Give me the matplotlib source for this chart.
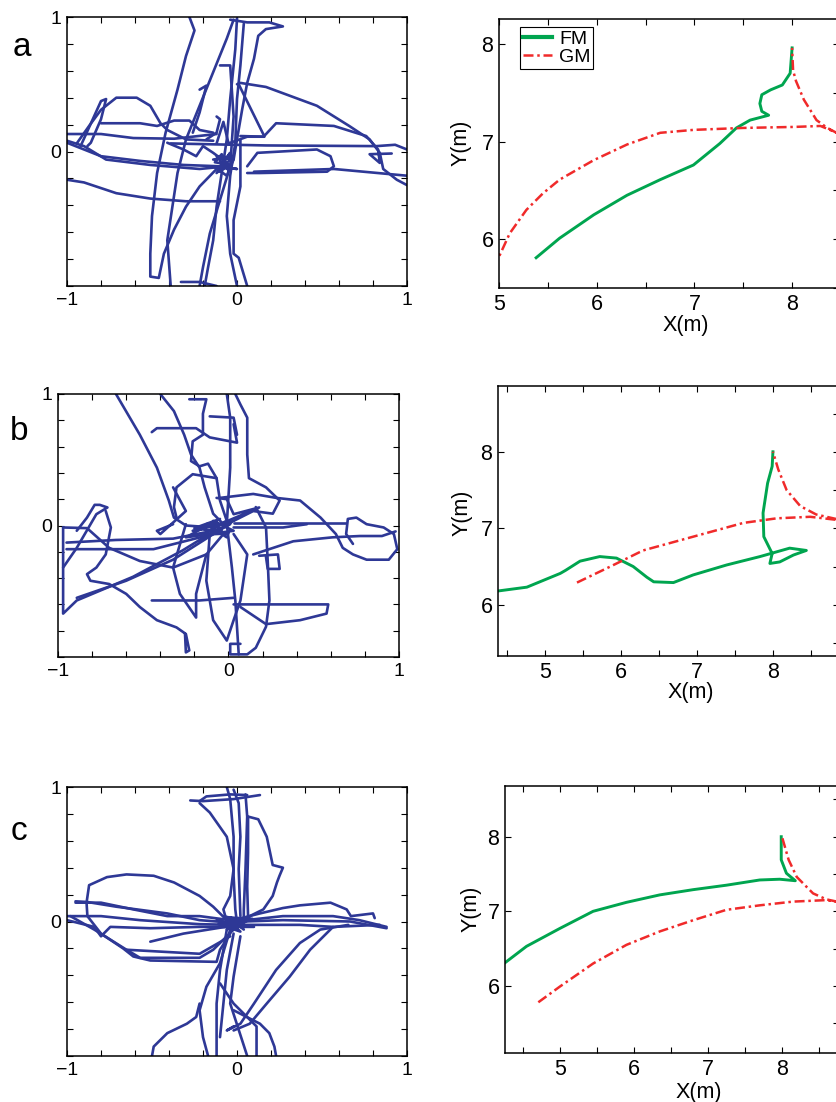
import numpy as np
import matplotlib.pyplot as plt
from matplotlib.ticker import MultipleLocator

plt.rcParams['font.family'] = ['Liberation Sans', 'DejaVu Sans']

# ---- left column: normalised head trajectories (x, y) ----
paths_a = [
    [(-0.28, 1.0), (-0.25, 0.90), (-0.30, 0.71), (-0.35, 0.46), (-0.42, 0.14), (-0.47, -0.16), (-0.50, -0.48),
     (-0.51, -0.76), (-0.51, -0.93), (-0.46, -0.94), (-0.43, -0.76), (-0.37, -0.58), (-0.30, -0.41),
     (-0.22, -0.26), (-0.12, -0.13)],
    [(-0.02, 0.98), (-0.06, 0.84), (-0.14, 0.59), (-0.22, 0.34), (-0.30, 0.09), (-0.35, -0.16), (-0.38, -0.41),
     (-0.41, -0.66), (-0.39, -1.0)],
    [(-0.04, 0.98), (0.06, 0.96), (0.19, 0.96), (0.27, 0.93), (0.17, 0.91), (0.125, 0.86), (0.10, 0.69),
     (0.06, 0.51), (0.03, 0.31), (0.0, 0.09), (-0.02, -0.06)],
    [(0.0, 0.99), (-0.01, 0.76), (-0.04, 0.39), (-0.06, 0.09), (-0.09, -0.16), (-0.12, -0.41), (-0.14, -0.66),
     (-0.17, -0.86), (-0.19, -1.0)],
    [(0.04, 0.95), (0.02, 0.64), (0.0, 0.39), (-0.01, 0.065), (-0.04, -0.18), (-0.06, -0.48), (-0.04, -0.76),
     (0.0, -1.0)],
    [(-0.10, 0.64), (-0.04, 0.64), (-0.02, 0.26), (-0.04, -0.11), (-0.10, -0.36), (-0.16, -0.61), (-0.20, -0.86),
     (-0.22, -1.0)],
    [(0.02, 0.09), (0.02, -0.26), (-0.02, -0.51), (-0.02, -0.76), (0.01, -0.79), (0.06, -1.0)],
    [(-0.33, -0.97), (-0.22, -0.97), (-0.12, -1.0)],
    [(0.0, 0.50), (0.02, 0.51), (0.17, 0.48), (0.47, 0.34), (0.66, 0.19), (0.78, 0.09), (0.84, -0.01),
     (0.86, -0.13), (0.94, -0.21), (1.0, -0.25)],
    [(-0.39, 0.06), (0.17, 0.045), (0.82, 0.04), (0.93, 0.05), (1.0, 0.015)],
    [(0.06, -0.11), (0.12, -0.01), (0.47, 0.015), (0.55, -0.035), (0.57, -0.11), (0.53, -0.15), (0.135, -0.16),
     (0.06, -0.16)],
    [(0.10, -0.15), (0.57, -0.13), (1.0, -0.18)],
    [(0.01, 0.50), (0.16, 0.115), (0.23, 0.21), (0.57, 0.19), (0.76, 0.115), (0.83, 0.015), (0.84, -0.085),
     (0.78, -0.02), (0.91, -0.015)],
    [(0.02, 0.115), (0.16, 0.11)],
    [(-0.94, 0.065), (-0.87, 0.19), (-0.80, 0.31), (-0.71, 0.40), (-0.59, 0.40), (-0.51, 0.34), (-0.45, 0.21),
     (-0.41, 0.16), (-0.30, 0.09), (-0.14, 0.08)],
    [(-0.92, 0.04), (-0.80, 0.375), (-0.77, 0.39), (-0.80, 0.24), (-0.86, 0.065), (-0.88, 0.04)],
    [(-0.80, 0.21), (-0.57, 0.21), (-0.47, 0.19), (-0.37, 0.23), (-0.28, 0.23), (-0.22, 0.16), (-0.14, 0.14)],
    [(-1.0, 0.13), (-0.80, 0.13), (-0.61, 0.10), (-0.37, 0.095), (-0.12, 0.13)],
    [(-1.0, 0.065), (-0.80, -0.035), (-0.57, -0.07), (-0.315, -0.10), (-0.10, -0.11)],
    [(-1.0, -0.21), (-0.90, -0.23), (-0.71, -0.31), (-0.51, -0.35), (-0.30, -0.37), (-0.10, -0.37)],
    [(-1.0, 0.08), (-0.90, 0.04), (-0.77, -0.06), (-0.51, -0.10), (-0.22, -0.13), (-0.06, -0.11)],
    [(-0.41, 0.065), (-0.315, 0.015), (-0.24, -0.035), (-0.20, 0.04), (-0.14, -0.01), (-0.06, -0.085)],
    [(-0.14, -0.06), (-0.02, -0.035), (-0.12, -0.16), (-0.04, -0.01), (-0.10, -0.11), (0.0, -0.13),
     (-0.14, -0.11), (-0.06, -0.18), (-0.02, -0.06), (-0.12, -0.035), (-0.05, -0.14), (-0.09, -0.02),
     (-0.13, -0.08), (-0.03, -0.10), (-0.11, -0.15), (-0.07, -0.04)],
    [(-0.22, 0.46), (-0.18, 0.49), (-0.22, 0.29), (-0.26, 0.14)],
    [(-0.12, 0.26), (-0.10, 0.24), (-0.12, 0.14), (-0.18, 0.09)],
    [(-0.12, 0.06), (-0.08, 0.22), (-0.05, 0.06), (0.06, 0.11), (0.16, 0.11)],
]

paths_b = [
    [(-0.66, 1.0), (-0.52, 0.69), (-0.42, 0.44), (-0.35, 0.19), (-0.32, 0.06), (-0.25, 0.0), (-0.09, -0.015)],
    [(-0.40, 1.0), (-0.32, 0.87), (-0.26, 0.69), (-0.22, 0.54), (-0.17, 0.44), (-0.14, 0.29), (-0.09, 0.09),
     (-0.03, 0.01)],
    [(-0.01, 1.0), (0.01, 0.82), (0.01, 0.44), (-0.01, 0.01), (0.02, -0.32), (0.04, -0.57), (0.06, -0.98)],
    [(0.04, 1.0), (0.07, 0.92), (0.11, 0.82), (0.11, 0.54), (0.12, 0.36), (0.22, 0.29), (0.30, 0.19),
     (0.26, 0.09), (0.145, 0.11), (0.03, 0.035)],
    [(-0.23, 0.96), (-0.13, 0.96), (-0.15, 0.85), (-0.15, 0.69), (-0.21, 0.64), (-0.22, 0.49), (-0.17, 0.45),
     (-0.12, 0.47), (-0.07, 0.36), (-0.05, 0.19), (-0.01, 0.035)],
    [(-0.45, 0.71), (-0.42, 0.74), (-0.19, 0.74), (-0.11, 0.67), (0.05, 0.63), (0.03, 0.77)],
    [(-0.11, 0.83), (0.03, 0.82), (0.05, 0.69)],
    [(-0.07, 0.36), (-0.21, 0.39), (-0.305, 0.29), (-0.32, 0.14), (-0.305, 0.06)],
    [(-0.05, 0.21), (0.145, 0.24), (0.28, 0.21), (0.42, 0.19), (0.54, 0.06), (0.63, -0.065), (0.67, -0.17),
     (0.73, -0.22), (0.81, -0.26), (0.94, -0.26), (0.99, -0.18), (0.97, -0.065), (0.91, -0.015), (0.81, 0.01),
     (0.75, 0.06), (0.70, 0.05), (0.69, -0.065), (0.73, -0.14)],
    [(0.03, 0.02), (0.42, 0.02), (0.69, 0.02)],
    [(0.145, -0.22), (0.38, -0.12), (0.61, -0.09), (0.77, -0.08), (0.90, -0.08), (0.98, -0.045)],
    [(0.22, -0.24), (0.23, -0.33), (0.30, -0.33), (0.29, -0.22), (0.18, -0.23)],
    [(0.16, 0.14), (0.22, -0.015), (0.23, -0.27), (0.24, -0.57), (0.22, -0.77), (0.16, -0.93), (0.11, -0.98),
     (0.01, -0.98), (0.01, -0.90), (0.07, -0.90)],
    [(-0.97, -0.015), (-0.97, -0.67), (-0.89, -0.57), (-0.56, -0.39), (-0.27, -0.19), (-0.05, -0.015)],
    [(-0.89, -0.55), (-0.60, -0.42), (-0.325, -0.26), (-0.07, -0.05)],
    [(-0.95, -0.13), (-0.66, -0.11), (-0.325, -0.10), (-0.05, -0.03)],
    [(-0.95, -0.18), (-0.44, -0.18), (-0.09, -0.065)],
    [(-0.97, -0.015), (-0.83, -0.02), (-0.70, -0.17), (-0.52, -0.27), (-0.325, -0.32), (-0.13, -0.22),
     (-0.03, -0.065)],
    [(-0.97, -0.32), (-0.89, -0.17), (-0.775, 0.086), (-0.71, 0.137), (-0.755, 0.157), (-0.785, 0.157),
     (-0.83, 0.06), (-0.89, -0.04)],
    [(-0.72, 0.11), (-0.69, -0.015), (-0.72, -0.22), (-0.775, -0.32), (-0.83, -0.37), (-0.81, -0.42),
     (-0.70, -0.445), (-0.60, -0.52), (-0.52, -0.62), (-0.42, -0.72), (-0.305, -0.775), (-0.25, -0.825),
     (-0.23, -0.95), (-0.25, -0.965), (-0.255, -0.825)],
    [(-0.45, -0.57), (-0.17, -0.57), (0.03, -0.55)],
    [(0.03, -0.60), (0.585, -0.60), (0.575, -0.67), (0.42, -0.72), (0.22, -0.75), (0.07, -0.62)],
    [(-0.25, 0.01), (-0.325, -0.32), (-0.285, -0.52), (-0.19, -0.70), (-0.19, -0.52), (-0.13, -0.22)],
    [(-0.11, -0.065), (-0.13, -0.42), (-0.09, -0.72), (-0.01, -0.875), (0.03, -0.72), (0.07, -0.57),
     (0.11, -0.22), (0.03, -0.065)],
    [(-0.325, 0.29), (-0.25, 0.11), (-0.40, -0.065), (-0.42, -0.04), (-0.325, 0.01)],
    [(-0.07, 0.21), (-0.01, 0.2), (0.03, 0.086), (0.18, 0.137), (-0.05, 0.01)],
    [(-0.21, -0.04), (0.03, 0.035), (-0.17, -0.12), (0.01, 0.01), (-0.13, 0.01), (-0.01, -0.09),
     (-0.09, 0.035), (0.03, -0.04), (-0.25, -0.09), (-0.05, 0.05), (-0.20, -0.02), (0.0, -0.06),
     (-0.15, -0.07), (-0.02, 0.03)],
    [(0.03, -0.015), (0.32, -0.015), (0.46, 0.01)],
]

paths_c = [
    [(-0.275, 0.90), (-0.20, 0.895), (-0.02, 0.91), (0.135, 0.94)],
    [(-0.22, 0.895), (-0.18, 0.93), (-0.04, 0.945), (0.06, 0.94)],
    [(-0.22, 0.88), (-0.16, 0.81), (-0.06, 0.63), (-0.02, 0.39), (-0.04, 0.19), (-0.08, 0.09), (-0.06, 0.0)],
    [(-0.06, 1.0), (-0.04, 0.91), (-0.02, 0.63), (-0.02, 0.34), (-0.01, 0.09), (0.0, -0.01)],
    [(-0.02, 0.98), (0.01, 0.88), (0.02, 0.63), (0.01, 0.39), (0.02, 0.04)],
    [(0.05, 0.945), (0.06, 0.78), (0.05, 0.39), (0.04, 0.09), (0.04, -0.01)],
    [(0.065, 0.78), (0.065, 0.51), (0.06, 0.26), (0.065, 0.04)],
    [(0.065, 0.78), (0.125, 0.76), (0.175, 0.63), (0.21, 0.42), (0.27, 0.40), (0.25, 0.34), (0.235, 0.29),
     (0.21, 0.19), (0.155, 0.09), (0.075, 0.04)],
    [(-0.06, 0.01), (-0.14, 0.11), (-0.22, 0.19), (-0.37, 0.29), (-0.49, 0.34), (-0.65, 0.35), (-0.765, 0.33),
     (-0.87, 0.27), (-0.885, 0.14), (-0.88, 0.04), (-0.80, -0.09), (-0.67, -0.20), (-0.61, -0.26),
     (-0.51, -0.29), (-0.12, -0.30), (-0.10, -0.21), (-0.04, -0.09)],
    [(-0.95, 0.15), (-0.88, 0.145), (-0.71, 0.11), (-0.41, 0.06), (-0.22, 0.01), (-0.02, -0.01)],
    [(-1.0, 0.04), (-0.80, 0.04), (-0.57, 0.01), (-0.22, -0.02), (-0.02, -0.025)],
    [(-1.0, 0.01), (-0.84, -0.04), (-0.80, -0.11), (-0.745, -0.04), (-0.51, -0.05), (-0.22, -0.04),
     (-0.04, -0.04)],
    [(-0.95, 0.14), (-0.80, 0.14), (-0.61, 0.09), (-0.41, 0.04), (-0.22, 0.04), (-0.04, 0.01)],
    [(-0.98, 0.04), (-0.84, -0.06), (-0.65, -0.21), (-0.57, -0.27), (-0.22, -0.27), (-0.14, -0.21),
     (-0.02, -0.06)],
    [(-0.51, -0.15), (-0.315, -0.09), (-0.02, -0.03)],
    [(-0.65, -0.21), (-0.22, -0.24), (-0.04, -0.11)],
    [(-0.02, 0.01), (0.135, 0.06), (0.27, 0.10), (0.37, 0.12), (0.55, 0.14), (0.645, 0.09), (0.67, 0.04),
     (0.80, 0.06), (0.81, 0.025)],
    [(-0.02, 0.0), (0.27, 0.04), (0.565, 0.04), (0.72, 0.01), (0.88, -0.04)],
    [(0.02, -0.025), (0.37, -0.025), (0.565, -0.04), (0.84, -0.025)],
    [(0.04, 0.0), (0.27, 0.01), (0.665, 0.0), (0.88, -0.05)],
    [(0.655, -0.025), (0.49, -0.06), (0.37, -0.16), (0.23, -0.36), (0.10, -0.61), (0.02, -0.76),
     (-0.06, -0.81), (-0.02, -0.78)],
    [(0.565, -0.04), (0.43, -0.21), (0.31, -0.41), (0.175, -0.61), (0.075, -0.76), (-0.02, -0.81)],
    [(-0.04, -0.06), (-0.10, -0.31), (-0.18, -0.485), (-0.22, -0.66), (-0.20, -0.86), (-0.17, -1.0)],
    [(-0.06, -0.06), (-0.10, -0.36), (-0.12, -0.61), (-0.12, -1.0)],
    [(-0.02, -0.09), (-0.06, -0.36), (-0.08, -0.61), (-0.10, -0.86)],
    [(-0.10, -0.46), (-0.02, -0.61), (0.115, -0.78), (0.115, -1.0)],
    [(-0.50, -1.0), (-0.49, -0.93), (-0.41, -0.83), (-0.295, -0.76), (-0.24, -0.71), (-0.22, -0.61)],
    [(-0.02, -0.66), (0.135, -0.76), (0.19, -0.83), (0.22, -0.93), (0.23, -1.0)],
    [(0.02, -0.11), (-0.02, -0.41), (-0.04, -0.61), (0.06, -1.0)],
    [(-0.12, 0.01), (0.10, -0.04), (-0.10, -0.04), (0.075, 0.04), (-0.06, -0.06), (0.055, 0.0),
     (-0.08, 0.04), (0.02, -0.075), (-0.11, -0.02), (0.09, 0.02), (-0.05, 0.03), (0.04, -0.06)],
]

# ---- right column: robot trajectories in metres ----
fm_a = [(5.38, 5.81), (5.62, 6.01), (5.97, 6.25), (6.31, 6.45), (6.65, 6.61), (6.99, 6.76), (7.26, 6.98),
        (7.43, 7.14), (7.57, 7.22), (7.76, 7.27), (7.69, 7.31), (7.67, 7.39), (7.69, 7.48), (7.78, 7.53),
        (7.90, 7.58), (7.98, 7.70), (8.0, 7.96)]
gm_a = [(4.95, 5.70), (5.0, 5.82), (5.11, 6.06), (5.28, 6.30), (5.45, 6.47), (5.62, 6.61), (5.97, 6.81),
        (6.31, 6.97), (6.65, 7.09), (6.99, 7.12), (7.50, 7.14), (8.01, 7.15), (8.29, 7.16), (8.46, 7.09),
        (8.55, 7.04), (8.36, 7.14), (8.25, 7.22), (8.12, 7.43), (8.04, 7.62), (8.01, 7.73), (8.0, 7.96)]

fm_b = [(4.38, 6.18), (4.76, 6.23), (5.20, 6.41), (5.27, 6.45), (5.46, 6.57), (5.72, 6.63), (5.94, 6.61),
        (6.16, 6.50), (6.34, 6.36), (6.43, 6.30), (6.69, 6.29), (6.95, 6.39), (7.39, 6.52), (7.83, 6.63),
        (8.22, 6.74), (8.44, 6.71), (8.27, 6.65), (8.09, 6.56), (7.96, 6.54), (7.99, 6.67), (7.88, 6.89),
        (7.87, 7.20), (7.93, 7.59), (7.99, 7.81), (8.0, 8.0)]
gm_b = [(5.42, 6.29), (5.86, 6.50), (6.29, 6.71), (6.95, 6.89), (7.61, 7.07), (8.05, 7.13), (8.49, 7.15),
        (8.84, 7.11), (8.95, 7.08), (8.84, 7.12), (8.57, 7.18), (8.36, 7.29), (8.18, 7.50), (8.07, 7.77),
        (8.0, 8.0)]

fm_c = [(4.26, 6.31), (4.55, 6.53), (5.0, 6.77), (5.45, 7.0), (5.90, 7.12), (6.35, 7.22), (6.80, 7.29),
        (7.25, 7.35), (7.70, 7.42), (7.97, 7.43), (8.18, 7.41), (8.06, 7.51), (7.99, 7.69), (7.99, 8.0)]
gm_c = [(4.71, 5.78), (5.0, 5.99), (5.45, 6.30), (5.90, 6.55), (6.35, 6.73), (6.80, 6.88), (7.25, 7.02),
        (7.70, 7.08), (8.15, 7.13), (8.60, 7.15), (8.74, 7.13), (8.85, 7.10), (8.74, 7.13), (8.60, 7.16),
        (8.42, 7.24), (8.20, 7.46), (8.09, 7.69), (8.0, 8.0)]

panel_letters = ['a', 'b', 'c']

BLUE = '#2e3896'
GREEN = '#00a54f'
RED = '#f02a2a'

W, H = 837, 1102


def px_axes(fig, left, top, right, bottom):
    """Axes placed by pixel box (origin top-left)."""
    return fig.add_axes([left / W, 1 - bottom / H, (right - left) / W, (bottom - top) / H])


def style_frame(ax):
    for s in ax.spines.values():
        s.set_linewidth(1.1)
        s.set_color('black')
    ax.tick_params(which='both', direction='in', length=4, width=0.8,
                   top=True, right=True, colors='black')


def draw_left(ax, paths):
    for p in paths:
        arr = np.array(p)
        ax.plot(arr[:, 0], arr[:, 1], color=BLUE, lw=1.9, solid_joinstyle='round',
                solid_capstyle='round')
    ax.set_xlim(-1, 1)
    ax.set_ylim(-1, 1)
    style_frame(ax)
    ax.set_xticks([-1, 0, 1])
    ax.set_yticks([-1, 0, 1])
    ax.set_yticklabels(['', '0', '1'])
    ax.xaxis.set_minor_locator(MultipleLocator(0.2))
    ax.yaxis.set_minor_locator(MultipleLocator(0.2))
    ax.tick_params(which='major', labelsize=14, pad=4)


def draw_right(ax, fm, gm, xlim, ylim, xlab_pos, ylab_pos, legend=False):
    fm = np.array(fm)
    gm = np.array(gm)
    ax.plot(fm[:, 0], fm[:, 1], color=GREEN, lw=2.1, label='FM', solid_joinstyle='round')
    ax.plot(gm[:, 0], gm[:, 1], color=RED, lw=1.8, ls=(0, (4, 1.5, 1, 1.5)), label='GM')
    ax.set_xlim(*xlim)
    ax.set_ylim(*ylim)
    style_frame(ax)
    ax.xaxis.set_major_locator(MultipleLocator(1))
    ax.yaxis.set_major_locator(MultipleLocator(1))
    ax.xaxis.set_minor_locator(MultipleLocator(0.5))
    ax.yaxis.set_minor_locator(MultipleLocator(0.5))
    ax.tick_params(which='minor', left=False, right=True)
    ax.tick_params(which='major', labelsize=15.5, pad=4)
    ax.set_xlabel('X(m)', fontsize=15.5)
    ax.set_ylabel('Y(m)', fontsize=15.5)
    ax.xaxis.set_label_coords(*xlab_pos)
    ax.yaxis.set_label_coords(*ylab_pos)
    if legend:
        leg = ax.legend(loc='upper left', bbox_to_anchor=(0.062, 0.97), fontsize=14,
                        handlelength=1.5, handletextpad=0.35, labelspacing=0.05,
                        borderpad=0.15, borderaxespad=0.0, fancybox=False,
                        framealpha=1, edgecolor='black')
        leg.get_frame().set_linewidth(0.8)
        leg.get_lines()[0].set_linewidth(3.0)


def main():
    fig = plt.figure(figsize=(W / 100, H / 100), dpi=100)

    left_boxes = [(67, 17, 407, 286), (58, 394, 399, 657), (67, 787, 407, 1056)]
    right_boxes = [(499, 19, 839, 288), (498, 386, 839, 656), (505, 786, 839, 1053)]
    letter_pos = [(22, 47), (19, 432), (19, 831)]

    for paths, box in zip([paths_a, paths_b, paths_c], left_boxes):
        ax = px_axes(fig, *box)
        draw_left(ax, paths)

    ax = px_axes(fig, *right_boxes[0])
    draw_right(ax, fm_a, gm_a, (5.0, 8.48), (5.50, 8.256), (0.55, -0.10), (-0.08, 0.54), legend=True)
    ax = px_axes(fig, *right_boxes[1])
    draw_right(ax, fm_b, gm_b, (4.38, 8.87), (5.33, 8.86), (0.565, -0.095), (-0.076, 0.53))
    ax = px_axes(fig, *right_boxes[2])
    draw_right(ax, fm_c, gm_c, (4.26, 8.77), (5.10, 8.68), (0.58, -0.11), (-0.07, 0.54))

    for letter, (x, y) in zip(panel_letters, letter_pos):
        fig.text(x / W, 1 - y / H, letter, fontsize=24, ha='center', va='center')

    fig.savefig('out.png', dpi=100)


if __name__ == "__main__":
    main()
